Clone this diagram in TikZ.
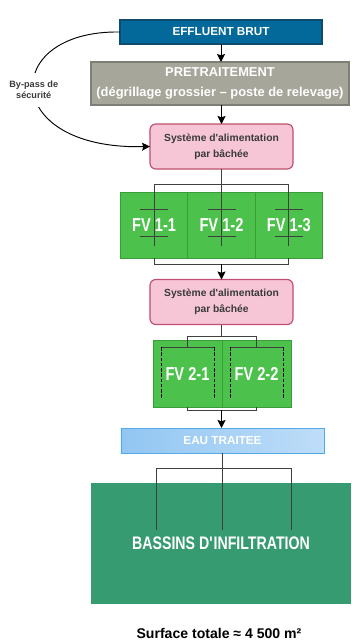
\documentclass[tikz,border=0pt]{standalone}
\usepackage{fontspec}
\setmainfont{Liberation Sans}
\newfontfamily\narrowsf{Liberation Sans}[FakeStretch=0.78]
\usetikzlibrary{arrows.meta,positioning,calc}
\definecolor{sblue}{HTML}{03699A}
\definecolor{sbluedk}{HTML}{0D4C6C}
\definecolor{sgray}{HTML}{A6A69A}
\definecolor{sgraydk}{HTML}{7E7E76}
\definecolor{spink}{HTML}{F6C6D6}
\definecolor{spinkdk}{HTML}{C0506F}
\definecolor{sgreen}{HTML}{4CC14B}
\definecolor{sgreendk}{HTML}{3A9D3A}
\definecolor{ssky}{HTML}{92C6F2}
\definecolor{sskylt}{HTML}{BEDDF8}
\definecolor{sskydk}{HTML}{52ABE8}
\definecolor{steal}{HTML}{369B70}
\definecolor{stext}{HTML}{3A3A3A}
\tikzset{
  >={Stealth[length=2.4mm,width=2.4mm,inset=0.4mm]},
  sflow/.style={->, black, line width=0.8pt},
  spipe/.style={black!75, line width=0.8pt},
  sdash/.style={black, line width=0.7pt, dash pattern=on 3pt off 1.5pt},
  sbox/.style={inner sep=0pt, outer sep=0pt, align=center},
  seff/.style={sbox, draw=sbluedk, fill=sblue, line width=1pt, text=white,
               font=\fontsize{10}{12}\selectfont\bfseries,
               minimum width=6.06cm, minimum height=0.72cm},
  spre/.style={sbox, draw=sgraydk, fill=sgray, line width=1.2pt, text=white,
               font=\fontsize{11}{16.5}\selectfont\bfseries,
               minimum width=7.74cm, minimum height=1.29cm},
  ssys/.style={sbox, draw=spinkdk, fill=spink, line width=1pt, rounded corners=5pt,
               text=stext, font=\fontsize{8.8}{13.5}\selectfont\bfseries,
               minimum width=4.29cm, minimum height=1.35cm},
  sfv/.style={sbox, draw=sgreendk, fill=sgreen, line width=0.6pt, text=white,
              font=\narrowsf\fontsize{16}{18}\selectfont\bfseries},
  sfv1/.style={sfv, minimum width=2.02cm, minimum height=1.98cm},
  sfv2/.style={sfv, minimum width=2.07cm, minimum height=2.01cm},
  seau/.style={sbox, draw=sskydk, left color=ssky, right color=sskylt, line width=0.8pt,
               text=white, font=\fontsize{10}{12}\selectfont\bfseries,
               minimum width=6.09cm, minimum height=0.75cm},
  sbas/.style={sbox, fill=steal, text=white,
               font=\narrowsf\fontsize{15.5}{18}\selectfont\bfseries,
               minimum width=7.8cm, minimum height=3.63cm},
  sbypass/.style={fill=white, text=stext, align=center, inner xsep=1pt, inner ysep=7pt,
                  font=\fontsize{7.8}{9}\selectfont\bfseries},
  ssurf/.style={text=black, inner sep=0pt, font=\fontsize{12}{14}\selectfont\bfseries},
}
\begin{document}
\begin{tikzpicture}[x=0.03cm,y=-0.03cm]
  \useasboundingbox (0,0) rectangle (351,641);

  \node[seff] (eff) at (221,32) {EFFLUENT BRUT};
  \node[spre] (pre) at (220,83.5) {PRETRAITEMENT\\(dégrillage grossier – poste de relevage)};
  \node[ssys] (sys1) at (221.5,146.5) {Système d\textquotesingle alimentation\\par bâchée};
  \node[sfv1] (fv12) at (221.5,225) {FV 1-2};
  \node[sfv1, left=0pt of fv12] (fv11) {FV 1-1};
  \node[sfv1, right=0pt of fv12] (fv13) {FV 1-3};
  \node[ssys] (sys2) at (221.5,302) {Système d\textquotesingle alimentation\\par bâchée};
  \node[sfv2] (fv21) at (187.5,373.5) {FV 2-1};
  \node[sfv2, right=0pt of fv21] (fv22) {FV 2-2};
  \node[seau] (eau) at (222.5,440.5) {EAU TRAITEE};
  \node[sbas] (bas) at (221,543.5) {BASSINS D\textquotesingle INFILTRATION};
  \node[ssurf] (surf) at (219,633) {Surface totale ≈ 4 500 m²};

  \draw[sflow] (eff.south) -- (eff.south |- pre.north);
  \draw[sflow] (sys1.north |- pre.south) -- (sys1.north);
  \draw[sflow] (eff.west) .. controls (0,30) and (0,150) ..
       node[sbypass] (bp) {By-pass de\\sécurité} (sys1.west);

  % alimentation des filtres du 1er étage
  \coordinate (d1) at (221.5,184);
  \draw[spipe] (sys1.south) -- (d1);
  \draw[spipe] (fv11.center |- d1) -- (fv13.center |- d1);
  \foreach \c in {fv11,fv12,fv13}{
    \draw[spipe] (\c.center |- d1) -- ++(0,62);
    \draw[spipe] ([xshift=-0.42cm,yshift=0.48cm]\c.center) -- ++(28,0);
    \draw[spipe] ([xshift=-0.42cm,yshift=-0.33cm]\c.center) -- ++(28,0);
  }
  \coordinate (c1) at (221.5,264);
  \draw[spipe] (fv11.south) -- (fv11.south |- c1) -- (fv13.south |- c1) -- (fv13.south);
  \draw[sflow] (c1) -- (sys2.north);

  % alimentation des filtres du 2e étage
  \coordinate (d2) at (221.5,336);
  \draw[spipe] (sys2.south) -- (d2);
  \draw[spipe] (fv21.center |- d2) -- (fv22.center |- d2);
  \foreach \c in {fv21,fv22}{
    \draw[spipe] (\c.center |- d2) -- ++(0,11);
    \draw[spipe] ([xshift=-0.795cm,yshift=0.795cm]\c.center) -- ++(53,0);
    \draw[sdash] ([xshift=-0.795cm,yshift=0.795cm]\c.center) -- ++(0,51);
    \draw[sdash] ([xshift=0.795cm,yshift=0.795cm]\c.center) -- ++(0,51);
  }
  \coordinate (c2) at (221.5,410);
  \draw[spipe] (fv21.south) -- (fv21.south |- c2) -- (fv22.south |- c2) -- (fv22.south);
  \draw[sflow] (c2) -- (c2 |- eau.north);

  % rejet vers les bassins
  \coordinate (d3) at (222.5,468);
  \draw[spipe] (eau.south) -- ++(0,77);
  \draw[spipe] ($(d3)+(-66.5,0)$) -- ($(d3)+(68.5,0)$);
  \foreach \dx in {-66.5,68.5}
    \draw[spipe] ($(d3)+(\dx,0)$) -- ++(0,62);

\end{tikzpicture}
\end{document}
